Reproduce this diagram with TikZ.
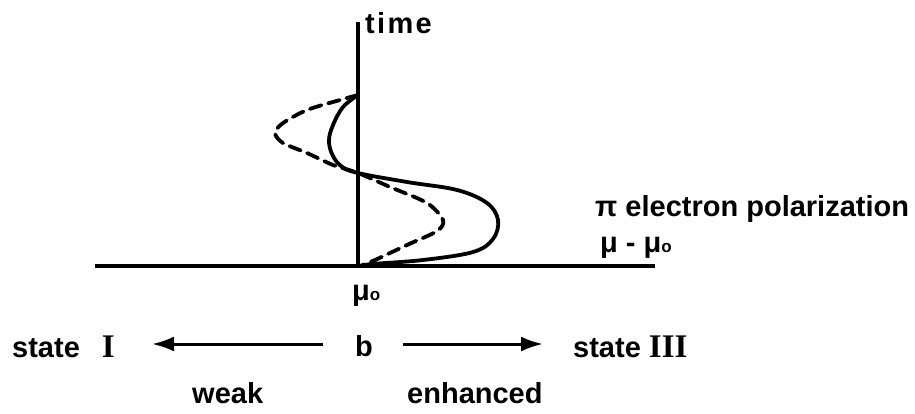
\documentclass[tikz,border=0pt]{standalone}
\usepackage{fontspec}
\setmainfont{Liberation Sans}
\newfontfamily\romnum{Liberation Serif}
\usetikzlibrary{arrows.meta}
\newcommand\subo{{\fontsize{17}{17}\selectfont o}}
\begin{document}
\begin{tikzpicture}[x=1pt,y=-1pt,
  lbl/.style={inner sep=0pt, anchor=base west, font=\fontsize{29}{32}\selectfont\bfseries},
  axis/.style={line width=3.2pt},
  curve/.style={line width=3.8pt, line cap=round, line join=round},
  dashcurve/.style={curve, dash pattern=on 12pt off 7pt},
  harrow/.style={line width=3pt, -{Latex[length=22pt,width=15pt]}}]
\useasboundingbox (0,0) rectangle (915,413);
% axes
\coordinate (top) at (358,22);
\coordinate (O) at (358,266);
\coordinate (L) at (95,266);
\coordinate (R) at (655,266);
\draw[axis] (O) -- (top);
\draw[axis] (L) -- (R);
% curves
\draw[curve] plot[smooth, tension=0.6] coordinates {(358,95) (343,107) (333,125) (329,140) (332,154) (341,166) (358,173) (407,182) (457,190) (487,203) (498,220) (493,239) (473,252) (423,260) (372,264) (362,266)};
\draw[dashcurve] plot[smooth, tension=0.5] coordinates {(358,95) (340,100) (307,110) (283,123) (275,133) (283,143) (307,153) (333,165) (358,173) (390,187) (427,203) (443,220) (437,231) (407,245) (375,260) (360,266)};
% labels
\node[lbl] (time) at (365,33) {\addfontfeature{LetterSpace=8}time};
\node[lbl] (pol) at (595,216) {π electron polarization};
\node[lbl] (mu) at (600,252) {μ - μ\subo};
\node[lbl] (mu0) at (352,300) {μ\subo};
\node[lbl] (s1) at (12,357) {state\hspace{22pt}{\romnum\fontsize{33}{33}\selectfont I}};
\node[lbl] (b) at (355,356) {b};
\node[lbl] (s3) at (573,357) {state {\romnum\fontsize{33}{33}\selectfont III}};
\node[lbl] (weak) at (192,403) {weak};
\node[lbl] (enh) at (407,403) {enhanced};
% arrows
\coordinate (lt) at (323,344);
\coordinate (lh) at (152,344);
\coordinate (rt) at (403,344);
\coordinate (rh) at (543,344);
\draw[harrow] (lt) -- (lh);
\draw[harrow] (rt) -- (rh);
\end{tikzpicture}
\end{document}
